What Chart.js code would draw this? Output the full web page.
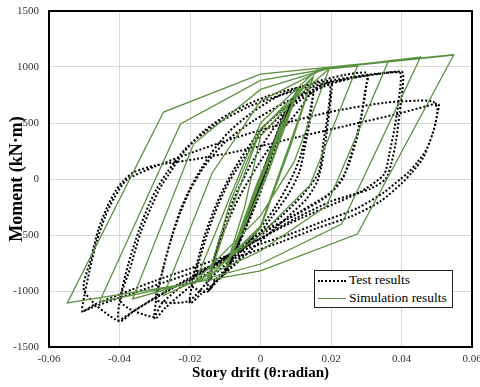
<!DOCTYPE html>
<html>
<head>
<meta charset="utf-8">
<script src="https://cdn.jsdelivr.net/npm/chart.js@4.4.1/dist/chart.umd.min.js"></script>
<style>
  body { margin: 0; background: #fff; }
  #wrap { position: relative; width: 480px; height: 387px; }
  #legend {
    position: absolute; left: 314px; top: 270px; width: 137px; height: 36px;
    border: 1px solid #222; background: #fff;
    font-family: "Liberation Serif", "Times New Roman", serif; font-size: 13.5px; color: #000;
  }
  #legend .row { position: absolute; left: 3px; height: 18px; line-height: 18px; white-space: nowrap; }
  #legend .sample { display: inline-block; width: 28px; vertical-align: middle; margin-right: 3px; }
  #legend .dot { border-top: 2px dotted #000; }
  #legend .solid { border-top: 1.3px solid #5b9140; }
</style>
</head>
<body>
<div id="wrap">
  <canvas id="chart" width="480" height="387"></canvas>
  <div id="legend">
    <div class="row" style="top:0px"><span class="sample dot"></span>Test results</div>
    <div class="row" style="top:18px"><span class="sample solid"></span>Simulation results</div>
  </div>
</div>
<script>
// Test results (dotted)
const testDrift = [
  0, 0.002, 0.004, 0.0025, 0, -0.0025, -0.0042, -0.0025, 0, 0.0025, 0.0042, 0.002, -0.001, -0.0042,
  -0.004, -0.001, 0.002, 0.0045, 0.0058, 0.004, 0.001, -0.002, -0.0045, -0.0058, -0.0035, 0, 0.003, 0.0058, 0.0035, 0, -0.003, -0.0058,
  -0.0065, -0.003, 0.001, 0.0045, 0.007, 0.008, 0.0065, 0.003, -0.001, -0.005, -0.0082, -0.006, -0.002, 0.002, 0.0055, 0.008, 0.0055, 0.0015, -0.003, -0.0082,
  -0.009, -0.005, -0.001, 0.003, 0.007, 0.0095, 0.0105, 0.009, 0.005, 0.001, -0.003, -0.007, -0.0105, -0.008, -0.004, 0, 0.004, 0.008, 0.0105, 0.0085, 0.004, 0, -0.005, -0.0105,
  -0.014, -0.013, -0.011, -0.0085, -0.006, -0.002, 0.003, 0.008, 0.012, 0.015, 0.0148, 0.014, 0.0125, 0.011, 0.008, 0.003, -0.002, -0.007, -0.012, -0.015,
  -0.0145, -0.0125, -0.0095, -0.006, -0.001, 0.005, 0.011, 0.015, 0.0145, 0.0132, 0.0115, 0.009, 0.004, -0.002, -0.008, -0.0125, -0.0152,
  -0.0195, -0.018, -0.016, -0.0135, -0.011, -0.008, -0.004, 0.001, 0.008, 0.015, 0.02, 0.0202, 0.0195, 0.0185, 0.0172, 0.016, 0.013, 0.008, 0.002, -0.005, -0.012, -0.017, -0.02,
  -0.0195, -0.0175, -0.015, -0.012, -0.009, -0.005, 0, 0.007, 0.014, 0.0195, 0.0198, 0.019, 0.0178, 0.0165, 0.012, 0.006, 0, -0.007, -0.014, -0.0205,
  -0.0295, -0.028, -0.0255, -0.023, -0.0205, -0.018, -0.014, -0.009, -0.003, 0.005, 0.015, 0.024, 0.03, 0.0303, 0.0295, 0.0285, 0.027, 0.025, 0.0233, 0.02, 0.0113, 0, -0.01, -0.02, -0.027, -0.03,
  -0.0295, -0.0275, -0.025, -0.0225, -0.02, -0.016, -0.01, -0.002, 0.008, 0.018, 0.026, 0.0305, 0.0302, 0.0293, 0.028, 0.026, 0.0238, 0.019, 0.01, 0, -0.012, -0.022, -0.028, -0.0305,
  -0.0395, -0.037, -0.034, -0.031, -0.0285, -0.026, -0.022, -0.016, -0.008, 0.002, 0.015, 0.028, 0.036, 0.04, 0.0405, 0.0403, 0.0395, 0.0385, 0.0372, 0.0355, 0.031, 0.025, 0.02, 0.01, 0, -0.01, -0.02, -0.03, -0.037, -0.0403,
  -0.0398, -0.0375, -0.0345, -0.0318, -0.0295, -0.0265, -0.021, -0.013, -0.003, 0.01, 0.024, 0.034, 0.0395, 0.0398, 0.0392, 0.038, 0.0365, 0.035, 0.028, 0.018, 0.008, -0.004, -0.016, -0.028, -0.036, -0.0402,
  -0.05, -0.048, -0.046, -0.0435, -0.041, -0.039, -0.036, -0.03, -0.018, -0.006, 0.01, 0.025, 0.04, 0.047, 0.0505, 0.05, 0.049, 0.047, 0.0445, 0.042, 0.0397, 0.035, 0.0275, 0.018, 0.0085, 0, -0.01, -0.02, -0.03, -0.04, -0.047, -0.0505,
  -0.05, -0.0485, -0.0465, -0.044, -0.0415, -0.038, -0.03, -0.02, -0.008, 0.006, 0.02, 0.035, 0.045, 0.049, 0.0502, 0.0495, 0.048, 0.046, 0.043, 0.04, 0.034, 0.026, 0.016, 0.006, -0.005, -0.016, -0.028, -0.04, -0.048, -0.0508
];
const testMoment = [
  0, 180, 340, 220, 20, -190, -370, -230, -30, 200, 350, 160, -90, -380,
  -400, -150, 130, 360, 500, 350, 90, -180, -400, -520, -330, -20, 250, 490, 300, 0, -280, -530,
  -600, -320, 30, 330, 560, 650, 560, 260, -100, -440, -700, -560, -230, 110, 420, 640, 450, 120, -280, -710,
  -760, -500, -200, 150, 500, 720, 790, 700, 400, 60, -290, -590, -850, -720, -420, -80, 270, 600, 780, 680, 320, -30, -450, -860,
  -900, -700, -480, -250, -70, 170, 420, 620, 760, 830, 720, 520, 270, 60, -130, -350, -550, -740, -900, -1000,
  -870, -640, -400, -160, 110, 390, 620, 790, 680, 450, 220, 20, -260, -510, -740, -890, -1010,
  -950, -750, -520, -300, -120, 60, 260, 470, 660, 800, 870, 800, 600, 350, 100, -30, -180, -330, -500, -700, -900, -1030, -1110,
  -960, -740, -480, -230, -30, 170, 390, 600, 760, 840, 780, 560, 320, 60, -140, -330, -480, -680, -880, -1090,
  -1080, -850, -550, -300, -120, 30, 230, 420, 580, 740, 860, 930, 950, 900, 750, 550, 350, 150, 0, -120, -290, -500, -720, -960, -1150, -1250,
  -1060, -780, -500, -280, -100, 110, 330, 520, 700, 830, 900, 920, 860, 680, 450, 220, 40, -150, -320, -480, -740, -950, -1110, -1230,
  -1100, -800, -480, -250, -80, 40, 230, 430, 600, 740, 850, 920, 950, 960, 930, 800, 600, 350, 150, 0, -90, -150, -200, -350, -530, -700, -880, -1060, -1200, -1260,
  -1060, -760, -460, -240, -90, 60, 280, 480, 650, 790, 890, 940, 950, 880, 700, 450, 220, 40, -120, -260, -400, -600, -820, -1030, -1180, -1270,
  -1000, -700, -450, -250, -100, -20, 60, 120, 180, 250, 370, 480, 590, 650, 670, 560, 420, 260, 150, 60, 0, -120, -260, -375, -490, -580, -690, -800, -910, -1030, -1120, -1180,
  -1050, -820, -560, -330, -170, -10, 110, 230, 360, 490, 600, 680, 700, 690, 620, 480, 330, 180, 60, -40, -200, -330, -440, -560, -680, -800, -930, -1060, -1150, -1190
];

// Simulation results (solid green)
const simDrift = [
  0, 0.0035, 0.0025, -0.0032, -0.0022, 0.0036, -0.0034,
  0.0055, 0.004, -0.0052, -0.0038, 0.0056, -0.0054,
  0.0078, 0.0058, -0.0074, -0.0055, 0.008, -0.0076,
  0.0105, 0.008, 0.002, -0.0095, -0.007, -0.001, 0.011, 0.0085, 0.002, -0.0098,
  -0.0045, 0, 0.0148, 0.0085, 0, -0.0145, -0.0085, 0, 0.015, 0.009, 0, -0.015,
  -0.0085, 0, 0.0195, 0.0095, 0, -0.0184,
  -0.0085, 0, 0.016, 0.0275, 0.014, 0, -0.017, -0.0275,
  -0.0137, 0, 0.018, 0.0363, 0.0187, 0, -0.0184, -0.0363,
  -0.019, 0, 0.02, 0.0454, 0.023, 0, -0.0195, -0.0457,
  -0.0227, 0, 0.022, 0.0548, 0.0275, 0, -0.0205, -0.0548,
  -0.0275, 0, 0.023, 0.0548
];
const simMoment = [
  0, 300, 210, -270, -185, 305, -285,
  470, 335, -440, -315, 475, -455,
  650, 470, -615, -445, 665, -630,
  800, 590, 60, -780, -560, -40, 815, 600, 40, -790,
  -250, 380, 905, 330, -420, -870, -300, 440, 915, 340, -440, -885,
  -200, 450, 985, 150, -330, -911,
  -150, 500, 975, 1009, -55, -500, -890, -1040,
  54, 696, 985, 1054, -241, -643, -911, -1071,
  312, 800, 995, 1089, -402, -759, -925, -1098,
  491, 880, 1000, 1107, -491, -821, -935, -1107,
  598, 937, 1010, 1110
];

const yTicks = [-1500, -1000, -500, 0, 500, 1000, 1500];
const xTicks = [-0.06, -0.04, -0.02, 0, 0.02, 0.04, 0.06];

const serif = '"Liberation Serif", "Times New Roman", serif';
const toPoints = (xs, ys) => xs.map((x, i) => ({ x: x, y: ys[i] }));

// black frame round the plot area
const frame = {
  id: 'frame',
  afterDraw(chart) {
    const a = chart.chartArea, ctx = chart.ctx;
    ctx.save();
    ctx.strokeStyle = '#000';
    ctx.lineWidth = 2;
    ctx.strokeRect(a.left, a.top, a.right - a.left, a.bottom - a.top);
    ctx.restore();
  }
};

new Chart(document.getElementById('chart'), {
  type: 'scatter',
  data: {
    datasets: [{
      label: 'Simulation results',
      data: toPoints(simDrift, simMoment),
      showLine: true,
      borderColor: '#5b9140',
      borderWidth: 1.3,
      pointRadius: 0,
      tension: 0
    }, {
      label: 'Test results',
      data: toPoints(testDrift, testMoment),
      showLine: true,
      borderColor: '#000',
      borderWidth: 2,
      borderDash: [2, 2],
      pointRadius: 0,
      tension: 0.25
    }]
  },
  options: {
    responsive: false,
    animation: false,
    devicePixelRatio: 1,
    layout: { padding: { top: 11, right: 8, left: 0, bottom: 0 } },
    plugins: { legend: { display: false }, tooltip: { enabled: false } },
    scales: {
      x: {
        min: -0.06, max: 0.06,
        afterBuildTicks: s => { s.ticks = xTicks.map(v => ({ value: v })); },
        afterFit: s => { s.height = 40; s.paddingLeft = 0; s.paddingRight = 0; },
        ticks: {
          callback: v => String(+v.toFixed(2)),
          font: { family: serif, size: 11 }, color: '#333', padding: 6, maxRotation: 0
        },
        grid: { color: '#d9d9d9', drawTicks: false },
        border: { display: false },
        title: {
          display: true, text: 'Story drift (θ:radian)', color: '#000',
          font: { family: serif, size: 15, weight: 'bold' }, padding: { top: 0, bottom: 5 }
        }
      },
      y: {
        min: -1500, max: 1500,
        afterBuildTicks: s => { s.ticks = yTicks.map(v => ({ value: v })); },
        afterFit: s => { s.width = 49; s.paddingTop = 0; s.paddingBottom = 0; },
        ticks: {
          callback: v => String(v),
          font: { family: serif, size: 11 }, color: '#333', padding: 10
        },
        grid: { color: '#d9d9d9', drawTicks: false },
        border: { display: false },
        title: {
          display: true, text: 'Moment (kN·m)', color: '#000',
          font: { family: serif, size: 18, weight: 'bold' }, padding: { top: 7, bottom: 0 }
        }
      }
    }
  },
  plugins: [frame]
});
</script>
</body>
</html>
